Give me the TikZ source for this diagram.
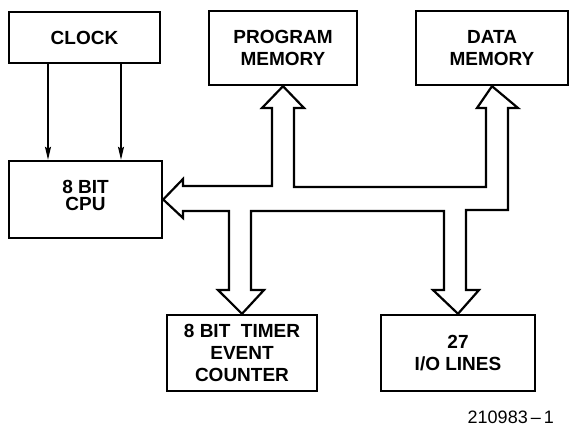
\documentclass[tikz,border=0pt]{standalone}
\usepackage{fontspec}
\setmainfont{Liberation Sans}
\usetikzlibrary{arrows.meta,calc}
\begin{document}
\begin{tikzpicture}[x=1pt,y=-1pt,
  blk/.style={draw,line width=2.4pt,rectangle,anchor=center,align=center,inner sep=0pt,
    font=\bfseries\fontsize{19}{21.5}\selectfont},
  txt/.style={align=center,inner sep=0pt,font=\bfseries\fontsize{19}{17.5}\selectfont},
  clk/.style={line width=1.5pt,-{Stealth[length=13pt,width=6pt,inset=2pt]}},
  bus/.style={line width=2.2pt,line join=miter}]
\useasboundingbox (0,0) rectangle (570,428);
\node[blk,minimum width=151pt,minimum height=51pt] (clock) at (84.5,37.5) {CLOCK};
\node[blk,minimum width=153pt,minimum height=77pt] (cpu) at (85.5,199.5) {};
\node[txt] (cputxt) at ($(cpu.center)+(0,-4)$) {8 BIT\\CPU};
\node[blk,minimum width=148pt,minimum height=74pt] (pm) at (283,48) {PROGRAM\\MEMORY};
\node[blk,minimum width=152pt,minimum height=74pt] (dm) at (492,48) {DATA\\MEMORY};
\node[blk,minimum width=150pt,minimum height=76pt,font=\bfseries\fontsize{19}{22}\selectfont] (tmr) at (242,353) {8 BIT\ \ TIMER\\EVENT\\COUNTER};
\node[blk,minimum width=154pt,minimum height=76pt] (io) at (458,353) {27\\I/O LINES};
\node[font=\fontsize{18}{20}\selectfont,anchor=east,inner sep=0pt] (lbl) at (554,417) {210983\,–\,1};
\coordinate (c1) at (48,0);
\coordinate (c2) at (121,0);
\draw[clk] (clock.south -| c1) -- (cpu.north -| c1);
\draw[clk] (clock.south -| c2) -- (cpu.north -| c2);
\draw[bus] (cpu.east)
  -- (183,179) -- (183,186) -- (272,186) -- (272,108) -- (262,108)
  -- (pm.south)
  -- (304,108) -- (294,108) -- (294,187) -- (486,187) -- (486,108) -- (477,108)
  -- (dm.south)
  -- (518,108) -- (508,108) -- (508,210) -- (466,210) -- (466,290) -- (479,290)
  -- (io.north)
  -- (433,290) -- (444,290) -- (444,211) -- (251,211) -- (251,290) -- (264,290)
  -- (tmr.north)
  -- (218,290) -- (229,290) -- (229,211) -- (183,211) -- (183,218) -- cycle;
\end{tikzpicture}
\end{document}
